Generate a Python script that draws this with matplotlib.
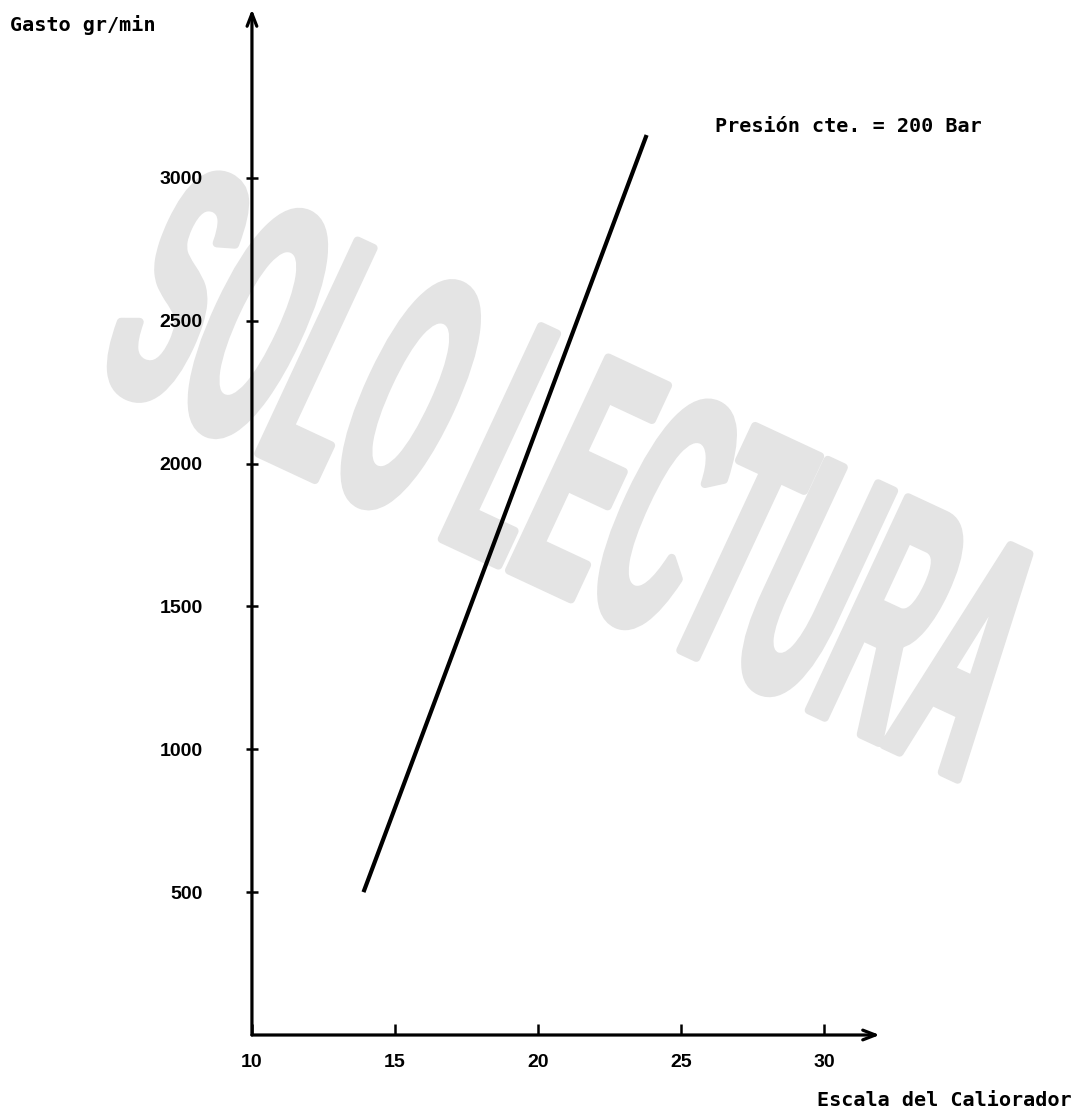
import matplotlib
matplotlib.use('Agg')
import matplotlib.pyplot as plt
import numpy as np
from matplotlib.font_manager import FontProperties
from matplotlib.textpath import TextPath
from matplotlib.patheffects import AbstractPathEffect
from matplotlib.transforms import Affine2D

# ---------------- data ----------------
x_line = [13.9, 23.8]            # Escala del Caliorador
y_line = [500, 3150]             # Gasto gr/min
x_ticks = [10, 15, 20, 25, 30]
x_ticklabels = ['10', '15', '20', '25', '30']
y_ticks = [500, 1000, 1500, 2000, 2500, 3000]
y_ticklabels = ['500', '1000', '1500', '2000', '2500', '3000']
x_axis_end = 31.95
y_axis_end = 3590
annotation_text = 'Presión cte. = 200 Bar'
xlabel_text = 'Escala del Caliorador'
ylabel_text = 'Gasto gr/min'
watermark_text = 'SOLO LECTURA'

W, H, DPI = 1075, 1114, 100


class StretchStroke(AbstractPathEffect):
    """Scale glyph outlines in the text's own frame and thicken them."""
    def __init__(self, sx=1.0, sy=1.0, lw=0.0):
        super().__init__()
        self.sx, self.sy, self.lw = sx, sy, lw

    def draw_path(self, renderer, gc, tpath, affine, rgbFace=None):
        gc0 = renderer.new_gc()
        gc0.copy_properties(gc)
        gc0.set_linewidth(self.lw)
        gc0.set_foreground(rgbFace, isRGBA=True)
        gc0.set_joinstyle('round')
        renderer.draw_path(gc0, tpath, Affine2D().scale(self.sx, self.sy) + affine, rgbFace)
        gc0.restore()


fig = plt.figure(figsize=(W / DPI, H / DPI), dpi=DPI)
ax = fig.add_axes([0, 0, 1, 1])
ax.set_xlim(1.19, 38.78)
ax.set_ylim(-276.5, 3622.6)

# ---------------- watermark ----------------
wm_lw_pt = 6
wm_lw_px = wm_lw_pt * DPI / 72
L_target, H_target = 960, 250
wm_angle = -25
fp = FontProperties(family='Liberation Sans', weight='bold', style='normal', size=100)
ext100 = TextPath((0, 0), watermark_text, size=100 * DPI / 72, prop=fp).get_extents()
wm_fs = 100 * (L_target - wm_lw_px) / ext100.width
fp.set_size(wm_fs)
ext = TextPath((0, 0), watermark_text, size=wm_fs * DPI / 72, prop=fp).get_extents()
sx = 1.0
sy = (H_target - wm_lw_px) / ext.height
theta = np.deg2rad(wm_angle)
R = np.array([[np.cos(theta), -np.sin(theta)], [np.sin(theta), np.cos(theta)]])
c_local = np.array([sx * (ext.x0 + ext.x1) / 2, sy * (ext.y0 + ext.y1) / 2])
C = np.array([576, H - 472])
anchor = C - R @ c_local
ax.text(anchor[0] / W, anchor[1] / H, watermark_text, transform=ax.transAxes,
        fontproperties=fp, rotation=wm_angle, rotation_mode='anchor',
        ha='left', va='baseline', color='#e4e4e4', zorder=0,
        path_effects=[StretchStroke(sx, sy, wm_lw_pt)])

# ---------------- axes ----------------
for s in ax.spines.values():
    s.set_visible(False)
ax.spines['left'].set_position(('data', 10))
ax.spines['bottom'].set_position(('data', 0))

ax.annotate('', xy=(x_axis_end, 0), xytext=(10, 0),
            arrowprops=dict(arrowstyle='->,head_length=0.9,head_width=0.35',
                            lw=2.3, color='black', shrinkA=0, shrinkB=0))
ax.annotate('', xy=(10, y_axis_end), xytext=(10, 0),
            arrowprops=dict(arrowstyle='->,head_length=0.9,head_width=0.35',
                            lw=2.3, color='black', shrinkA=0, shrinkB=0))

tick_font = dict(family='Liberation Sans', weight='bold', size=14)
ax.set_xticks(x_ticks, x_ticklabels, **tick_font)
ax.set_yticks(y_ticks, y_ticklabels, **tick_font)
ax.tick_params(axis='x', direction='in', length=8, width=1.8, pad=14)
ax.tick_params(axis='y', direction='inout', length=9, width=1.8, pad=31)

ax.plot(x_line, y_line, color='black', lw=3, solid_capstyle='butt', zorder=3)

mono = dict(family='DejaVu Sans Mono', weight='bold', size=14.5)
fig.text(10 / W, 1 - 25 / H, ylabel_text, ha='left', va='center', **mono)
fig.text(715 / W, 1 - 127 / H, annotation_text, ha='left', va='center', **mono)
fig.text(1072 / W, 1 - 1100 / H, xlabel_text, ha='right', va='center', **mono)

fig.savefig('out.png', dpi=DPI)
